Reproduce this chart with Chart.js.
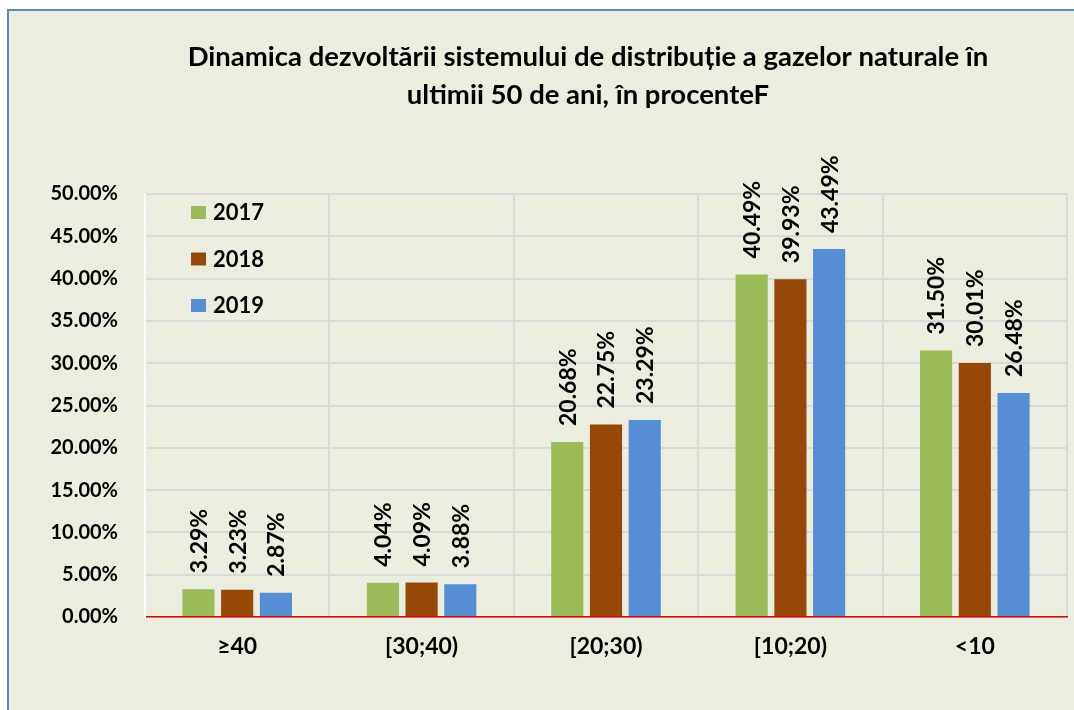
<!DOCTYPE html>
<html>
<head>
<meta charset="utf-8">
<script src="https://cdn.jsdelivr.net/npm/chart.js@4.4.0/dist/chart.umd.min.js"></script>
<style>
  body { margin: 0; background: #ffffff; overflow: hidden; }
  #frame {
    position: absolute; left: 7px; top: 9px; width: 1100px; height: 740px;
    background: #ebeedf; border-left: 2px solid #5b87c5; border-top: 2px solid #5b87c5;
  }
  #wrap { position: absolute; left: 0; top: 0; width: 1074px; height: 710px; }
</style>
</head>
<body>
<div id="frame"></div>
<div id="wrap"><canvas id="chart" width="1074" height="710"></canvas></div>
<script>
// categorii si valori (procente)
const categories = ['≥40', '[30;40)', '[20;30)', '[10;20)', '<10'];
const years = ['2017', '2018', '2019'];
const values2017 = [3.29, 4.04, 20.68, 40.49, 31.50];
const values2018 = [3.23, 4.09, 22.75, 39.93, 30.01];
const values2019 = [2.87, 3.88, 23.29, 43.49, 26.48];
const colors = ['#9bbb59', '#974806', '#558ed5'];
const titleLines = ['Dinamica dezvoltării sistemului de distribuție a gazelor naturale în', 'ultimii 50 de ani, în procenteF'];

const FONT = 'Lato, "Open Sans", sans-serif';

// eticheta verticala deasupra fiecarei bare
const barLabels = {
  id: 'barLabels',
  afterDatasetsDraw(chart) {
    const ctx = chart.ctx;
    ctx.save();
    ctx.font = 'bold 23px ' + FONT;
    ctx.fillStyle = '#000';
    ctx.textAlign = 'left';
    ctx.textBaseline = 'middle';
    chart.data.datasets.forEach((ds, i) => {
      chart.getDatasetMeta(i).data.forEach((bar, j) => {
        ctx.save();
        ctx.translate(bar.x + 1, bar.y - 16);
        ctx.rotate(-Math.PI / 2);
        ctx.fillText(ds.data[j].toFixed(2) + '%', 0, 0);
        ctx.restore();
      });
    });
    ctx.restore();
  }
};

// titlul si legenda in interiorul graficului
const extras = {
  id: 'extras',
  afterDraw(chart) {
    const ctx = chart.ctx;
    ctx.save();
    ctx.fillStyle = '#000';
    ctx.font = 'bold 27.5px ' + FONT;
    ctx.textAlign = 'center';
    ctx.textBaseline = 'middle';
    ctx.fillText(titleLines[0], 588, 57);
    ctx.fillText(titleLines[1], 588, 95);

    ctx.font = 'bold 22px ' + FONT;
    ctx.textAlign = 'left';
    chart.data.datasets.forEach((ds, i) => {
      const y = 212 + i * 46.5;
      ctx.fillStyle = ds.backgroundColor;
      ctx.fillRect(191, y - 6, 15, 13);
      ctx.fillStyle = '#000';
      ctx.fillText(ds.label, 213, y + 1);
    });
    ctx.restore();
  }
};

new Chart(document.getElementById('chart'), {
  type: 'bar',
  data: {
    labels: categories,
    datasets: [
      { label: years[0], data: values2017, backgroundColor: colors[0] },
      { label: years[1], data: values2018, backgroundColor: colors[1] },
      { label: years[2], data: values2019, backgroundColor: colors[2] }
    ]
  },
  options: {
    responsive: false,
    animation: false,
    layout: { padding: { left: 0, right: 7, top: 194, bottom: 0 } },
    datasets: { bar: { categoryPercentage: 0.63, barPercentage: 0.83 } },
    plugins: {
      legend: { display: false },
      title: { display: false },
      tooltip: { enabled: false }
    },
    scales: {
      x: {
        grid: { color: '#d9d9d9', lineWidth: 2, drawTicks: false },
        border: { color: '#e00000', width: 1.5 },
        ticks: { color: '#000', font: { family: FONT, size: 23, weight: 'bold' }, padding: 16 },
        afterFit(scale) { scale.height = 93; }
      },
      y: {
        min: 0, max: 50,
        grid: { color: '#d9d9d9', lineWidth: 2, drawTicks: false },
        border: { color: '#ffffff', width: 2 },
        ticks: {
          stepSize: 5, color: '#000', padding: 27,
          font: { family: FONT, size: 20, weight: 'bold' },
          callback: v => v.toFixed(2) + '%'
        },
        afterFit(scale) { scale.width = 145; }
      }
    }
  },
  plugins: [barLabels, extras]
});
</script>
</body>
</html>
